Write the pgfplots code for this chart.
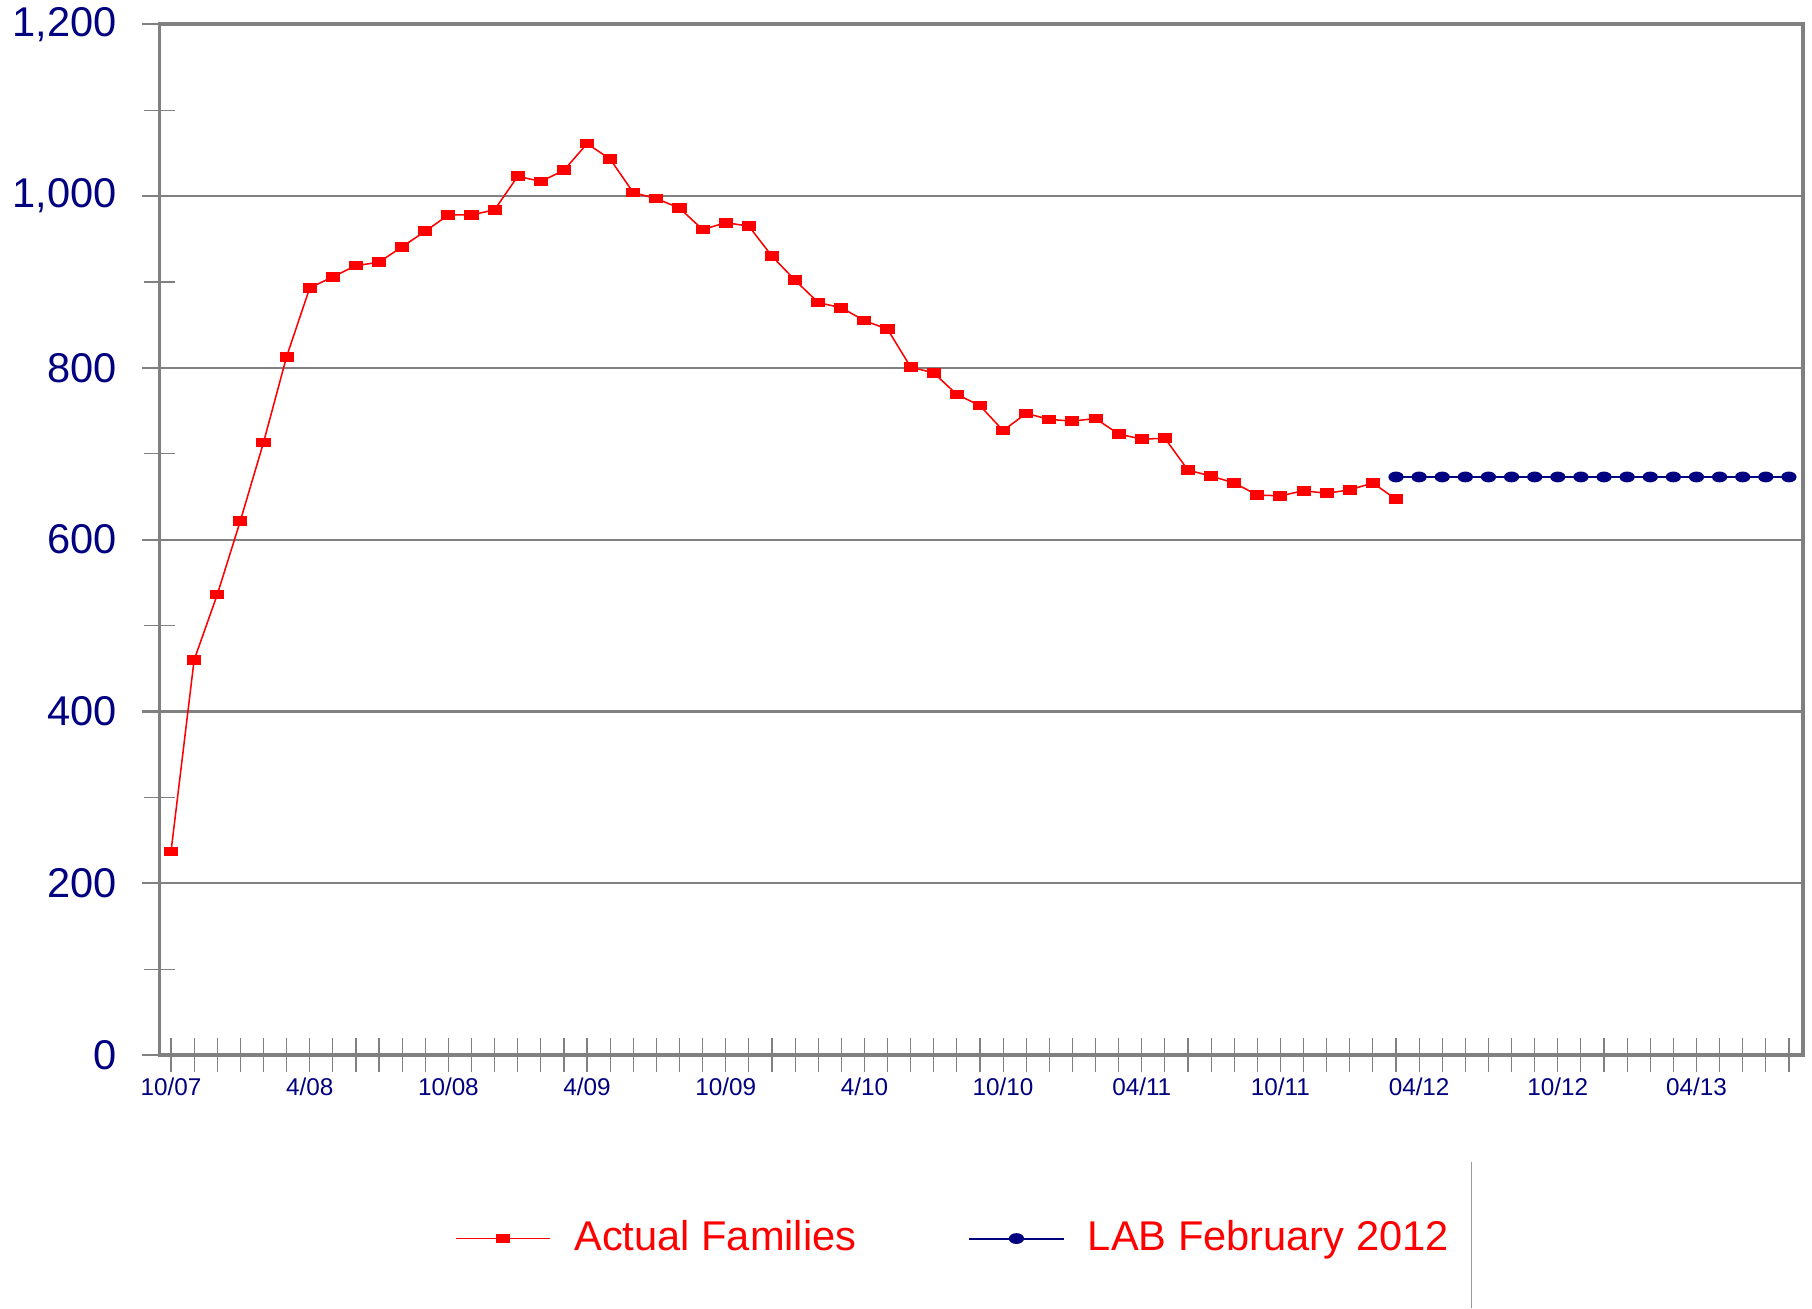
\documentclass[border=0pt]{standalone}
\usepackage{fontspec}
\setmainfont{Liberation Sans}
\usepackage{pgfplots}
\pgfplotsset{compat=1.18}
\definecolor{navy}{RGB}{0,0,128}
\definecolor{axgray}{RGB}{128,128,128}

\pgfplotstableread{
idx val
0 237
1 460
2 536
3 622
4 713
5 813
6 893
7 906
8 919
9 923
10 941
11 959
12 978
13 978
14 984
15 1023
16 1017
17 1030
18 1061
19 1043
20 1004
21 997
22 986
23 961
24 969
25 965
26 930
27 902
28 876
29 870
30 855
31 845
32 801
33 794
34 769
35 756
36 727
37 747
38 740
39 738
40 741
41 723
42 717
43 718
44 681
45 674
46 666
47 652
48 651
49 657
50 654
51 658
52 666
53 647
}\actual

\pgfplotstableread{
idx val
53 673
54 673
55 673
56 673
57 673
58 673
59 673
60 673
61 673
62 673
63 673
64 673
65 673
66 673
67 673
68 673
69 673
70 673
}\lab

\begin{document}
\begin{tikzpicture}
\begin{axis}[
    scale only axis,
    width=426.6pt,
    height=267.6pt,
    xmin=-0.5, xmax=70.6,
    ymin=0, ymax=1200,
    axis line style={axgray, line width=1pt},
    xtick pos=bottom, ytick pos=left,
    ytick={0,200,...,1200},
    minor ytick={100,300,...,1100},
    ymajorgrids,
    major grid style={axgray, line width=0.6pt},
    tick align=center,
    major tick length=9pt,
    minor tick length=8pt,
    major y tick style={axgray, line width=0.6pt},
    minor y tick style={axgray, line width=0.3pt},
    xtick={0,1,...,70},
    xticklabels={10/07,,,,,,4/08,,,,,,10/08,,,,,,4/09,,,,,,10/09,,,,,,4/10,,,,,,10/10,,,,,,04/11,,,,,,10/11,,,,,,04/12,,,,,,10/12,,,,,,04/13,,,,},
    major x tick style={axgray, line width=0.3pt},
    yticklabel style={font=\fontsize{10.8}{12}\selectfont, text=navy, xshift=-3pt},
    xticklabel style={font=\fontsize{6.3}{7}\selectfont, text=navy, yshift=2.1pt},
    /pgf/number format/assume math mode=true,
    /pgf/number format/.cd, 1000 sep={,},
    /pgfplots/.cd,
    clip=false,
    legend columns=2,
    legend style={at={(0.4845,-0.178)}, anchor=center, draw=none, fill=none,
        font=\fontsize{10.8}{12}\selectfont, text=red,
        /tikz/every even column/.append style={column sep=27pt},
        /tikz/every odd column/.append style={column sep=4pt}},
    legend image code/.code={
        \draw[mark repeat=2,mark phase=2] plot coordinates {(0pt,0pt) (12.3pt,0pt) (24.6pt,0pt)};
    },
]
\addplot[red, line width=0.4pt, mark=square*, mark size=1.05pt, mark options={xscale=1.55, fill=red, draw=red}]
    table[x=idx, y=val] {\actual};
\addlegendentry{Actual Families}
\addplot[navy, line width=0.5pt, mark=*, mark size=1.15pt, mark options={xscale=1.5, fill=navy, draw=navy}]
    table[x=idx, y=val] {\lab};
\addlegendentry{LAB February 2012}
\draw[axgray!80, line width=0.3pt] (axis cs:56.25,-124) -- (axis cs:56.25,-295);
\end{axis}
\pgfresetboundingbox
\path (current axis.south west) ++(-41.4pt,-65.7pt) rectangle ++(470.4pt,339.6pt);
\end{tikzpicture}
\end{document}
